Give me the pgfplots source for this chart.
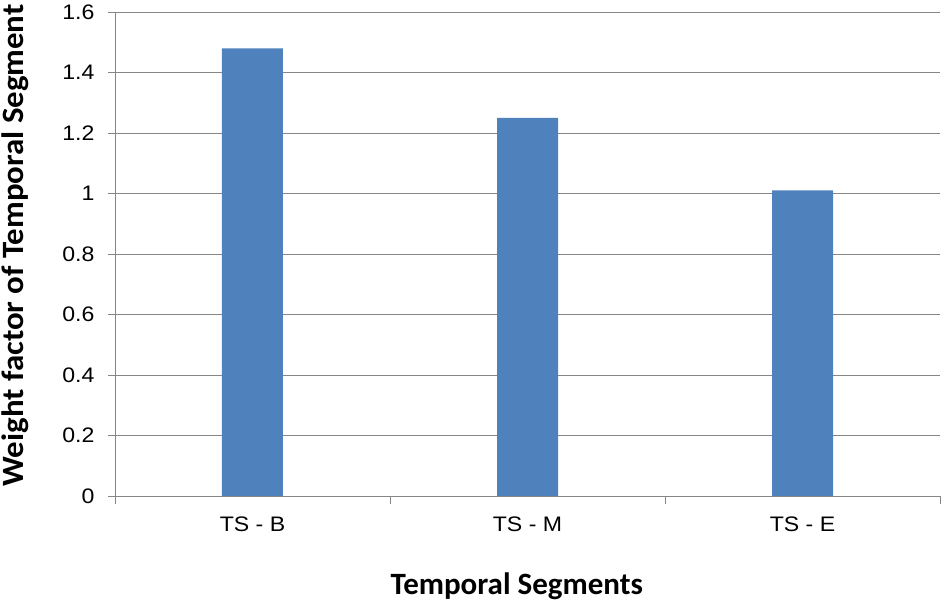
\documentclass[border=0pt]{standalone}
\usepackage{fontspec}
\setmainfont{Liberation Sans}[FakeStretch=1.1]
\newfontfamily\calibri{Carlito}
\newfontfamily\calibriwide{Carlito}[FakeStretch=1.06]
\usepackage{pgfplots}
\pgfplotsset{compat=1.18}
\definecolor{barblue}{HTML}{4F81BD}
\definecolor{gridgray}{HTML}{868686}
\begin{document}
\begin{tikzpicture}[x=1pt,y=1pt]
\path[use as bounding box] (-115,-111) rectangle (831,496);
\begin{axis}[
  at={(0,0)}, anchor=south west,
  scale only axis,
  width=825pt, height=484pt,
  xmin=-0.5, xmax=2.5, ymin=0, ymax=1.6,
  axis x line*=bottom, axis y line*=left,
  axis line style={gridgray, line width=0.9pt, -},
  xtick={0,1,2},
  xticklabels={TS - B, TS - M, TS - E},
  minor xtick={-0.5,0.5,1.5,2.5},
  major x tick style={draw=none},
  minor x tick style={gridgray, line width=0.9pt},
  minor tick length=8pt,
  xtick align=outside,
  ytick={0,0.2,0.4,0.6,0.8,1,1.2,1.4,1.6},
  yticklabels={0,0.2,0.4,0.6,0.8,1,1.2,1.4,1.6},
  ytick align=outside,
  major tick length=7pt,
  y tick style={gridgray, line width=0.9pt},
  ymajorgrids,
  grid style={gridgray, line width=0.9pt},
  tick label style={font=\fontsize{21}{22}\selectfont, text=black},
  yticklabel style={xshift=-10pt},
  xticklabel style={yshift=-10pt},
  /pgf/number format/assume math mode=true,
  xlabel={\calibri Temporal Segments},
  ylabel={\calibriwide Weight factor of Temporal Segment},
  label style={font=\bfseries\fontsize{31}{32}\selectfont},
  xlabel style={at={(rel axis cs:0.487,0)}, anchor=base, yshift=-99pt},
  ylabel style={at={(rel axis cs:0,0.5176)}, anchor=base, yshift=91pt},
  clip=false,
]
\addplot[ybar, bar width=61pt, fill=barblue, draw=none] coordinates {(0,1.48) (1,1.25) (2,1.01)};
\end{axis}
\end{tikzpicture}
\end{document}
